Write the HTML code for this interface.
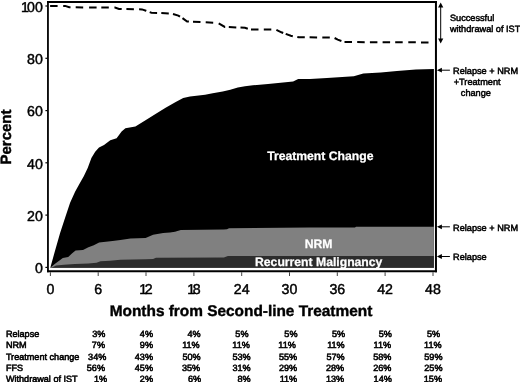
<!DOCTYPE html>
<html><head><meta charset="utf-8"><title>Figure</title>
<style>
html,body{margin:0;padding:0;background:#fff;}
svg{display:block;text-rendering:geometricPrecision;font-family:"Liberation Sans",sans-serif;fill:#000;}
.tk{font-size:14.2px;stroke:#000;stroke-width:0.45px;}
.an{font-size:9.2px;stroke:#000;stroke-width:0.5px;}
.tb{font-size:9.1px;stroke:#000;stroke-width:0.55px;}
.wl{font-size:12.2px;font-weight:bold;fill:#fff;stroke:#fff;stroke-width:0.25px;}
.ax{font-size:15.4px;font-weight:bold;stroke:#000;stroke-width:0.4px;}
</style></head><body>
<svg width="520" height="382" viewBox="0 0 520 382">
<rect x="0" y="0" width="520" height="382" fill="#fff"/>
<path d="M50.3,267.7 L55.1,250.5 L60.1,232.9 L65.1,217.8 L70.1,202.7 L75.2,191.4 L80.2,182.6 L83.9,176.0 L87.7,168.0 L91.4,158.0 L95.2,151.7 L99.0,147.4 L104.0,144.9 L110.3,140.3 L116.6,138.3 L121.6,131.5 L125.4,128.3 L135.4,126.5 L145.5,120.2 L155.5,114.0 L165.6,107.7 L175.7,102.1 L183.2,98.1 L190.0,96.5 L205.1,94.8 L212.7,93.2 L222.7,91.5 L230.3,89.8 L237.8,87.6 L245.0,86.2 L252.9,85.3 L268.0,83.9 L280.6,82.7 L293.1,81.4 L298.2,78.9 L310.0,78.9 L326.9,77.9 L353.8,76.3 L363.3,73.6 L380.8,72.5 L396.9,70.9 L415.8,69.6 L433.9,69.0 L433.9,267.7 Z" fill="#000"/>
<path d="M50.3,267.7 L54.7,264.0 L58.8,261.1 L62.8,258.0 L68.2,257.0 L72.2,253.3 L75.6,250.6 L83.0,249.9 L88.4,247.2 L93.8,245.2 L99.1,242.5 L105.9,241.8 L112.6,240.9 L120.4,239.9 L130.5,238.4 L145.6,238.0 L153.1,234.8 L163.2,233.1 L170.0,232.5 L175.0,231.8 L180.8,230.0 L223.9,229.4 L227.0,229.2 L229.0,228.2 L310.0,227.6 L355.0,227.4 L356.0,226.8 L433.9,226.8 L433.9,267.7 Z" fill="#808080"/>
<path d="M50.3,267.7 L52.0,267.4 L56.0,265.4 L64.0,264.7 L75.0,264.0 L88.4,263.4 L96.5,262.7 L100.5,261.3 L110.0,260.7 L120.4,259.7 L145.6,259.3 L153.0,259.0 L156.0,257.8 L223.9,257.6 L227.9,256.1 L433.9,256.1 L433.9,267.7 Z" fill="#2c2c2c"/>
<path d="M50.1,5.9 L57.6,5.9 M63.2,5.9 L65.2,5.9 L69.2,7.3 L70.5,7.3 M75.7,7.3 L83.2,7.4 M89.1,7.4 L96.6,7.4 M101.3,7.4 L108.8,7.5 M114.4,7.5 L115.0,7.5 L119.0,8.9 L121.7,9.0 M126.4,9.1 L133.9,9.2 M139.1,9.3 L142.0,9.4 L146.0,10.8 L146.3,10.9 M149.7,12.1 L151.4,12.7 L157.1,12.9 M161.3,13.1 L168.8,13.4 M173.0,14.0 L178.3,15.6 L180.0,16.6 M182.5,18.1 L187.1,21.5 L188.9,21.6 M193.0,21.8 L200.5,22.1 M205.7,22.3 L213.2,22.7 M218.7,23.3 L224.8,26.9 L225.2,26.9 M228.8,27.1 L236.3,27.4 M240.5,27.5 L245.0,27.7 L247.8,28.7 M251.0,29.6 L258.5,29.6 M263.8,29.6 L271.3,29.6 M276.4,29.8 L281.4,32.3 L283.2,33.0 M285.7,33.9 L290.8,35.8 L292.8,36.2 M297.3,36.9 L298.9,37.2 L304.8,37.3 M309.6,37.3 L317.1,37.4 M322.3,37.4 L329.8,37.5 M334.6,38.0 L337.7,39.7 L341.4,41.0 M344.5,42.1 L352.0,42.1 M357.2,42.1 L364.7,42.2 M369.9,42.2 L377.4,42.2 M382.6,42.2 L390.1,42.3 M395.2,42.3 L402.7,42.3 M408.3,42.3 L415.8,42.3 M421.0,42.4 L428.5,42.4" fill="none" stroke="#000" stroke-width="2"/>
<path d="M47.05,2 H436.95 M47.05,271.25 H436.95" fill="none" stroke="#000" stroke-width="2.1"/>
<path d="M47.95,1 V272.3" fill="none" stroke="#000" stroke-width="1.8"/>
<path d="M435.95,1 V272.3" fill="none" stroke="#000" stroke-width="2.0"/>
<line x1="45.4" x2="47.2" y1="267.4" y2="267.4" stroke="#000" stroke-width="1.2"/>
<text class="tk" x="42.8" y="273.2" text-anchor="end">0</text>
<line x1="45.4" x2="47.2" y1="215.1" y2="215.1" stroke="#000" stroke-width="1.2"/>
<text class="tk" x="42.8" y="220.9" text-anchor="end">20</text>
<line x1="45.4" x2="47.2" y1="162.8" y2="162.8" stroke="#000" stroke-width="1.2"/>
<text class="tk" x="42.8" y="168.6" text-anchor="end">40</text>
<line x1="45.4" x2="47.2" y1="110.6" y2="110.6" stroke="#000" stroke-width="1.2"/>
<text class="tk" x="42.8" y="116.4" text-anchor="end">60</text>
<line x1="45.4" x2="47.2" y1="58.3" y2="58.3" stroke="#000" stroke-width="1.2"/>
<text class="tk" x="42.8" y="64.1" text-anchor="end">80</text>
<line x1="45.4" x2="47.2" y1="6.0" y2="6.0" stroke="#000" stroke-width="1.2"/>
<text class="tk" x="42.8" y="11.8" text-anchor="end">1<tspan dx="-1.9">00</tspan></text>
<line x1="50.4" x2="50.4" y1="272.2" y2="276" stroke="#444" stroke-width="1"/>
<text class="tk" x="50.4" y="294.4" text-anchor="middle">0</text>
<line x1="98.2" x2="98.2" y1="272.2" y2="276" stroke="#444" stroke-width="1"/>
<text class="tk" x="98.2" y="294.4" text-anchor="middle">6</text>
<line x1="146.0" x2="146.0" y1="272.2" y2="276" stroke="#444" stroke-width="1"/>
<text class="tk" x="146.0" y="294.4" text-anchor="middle">1<tspan dx="-2.4">2</tspan></text>
<line x1="193.9" x2="193.9" y1="272.2" y2="276" stroke="#444" stroke-width="1"/>
<text class="tk" x="193.9" y="294.4" text-anchor="middle">1<tspan dx="-2.4">8</tspan></text>
<line x1="241.7" x2="241.7" y1="272.2" y2="276" stroke="#444" stroke-width="1"/>
<text class="tk" x="241.7" y="294.4" text-anchor="middle">24</text>
<line x1="289.5" x2="289.5" y1="272.2" y2="276" stroke="#444" stroke-width="1"/>
<text class="tk" x="289.5" y="294.4" text-anchor="middle">30</text>
<line x1="337.3" x2="337.3" y1="272.2" y2="276" stroke="#444" stroke-width="1"/>
<text class="tk" x="337.3" y="294.4" text-anchor="middle">36</text>
<line x1="385.1" x2="385.1" y1="272.2" y2="276" stroke="#444" stroke-width="1"/>
<text class="tk" x="385.1" y="294.4" text-anchor="middle">42</text>
<line x1="433.0" x2="433.0" y1="272.2" y2="276" stroke="#444" stroke-width="1"/>
<text class="tk" x="433.0" y="294.4" text-anchor="middle">48</text>
<text class="ax" x="241.0" y="315.7" text-anchor="middle">Months from Second-line Treatment</text>
<text class="ax" style="font-size:15px" transform="translate(11.3,137) rotate(-90)" text-anchor="middle">Percent</text>
<text class="wl" x="320.3" y="160.1" text-anchor="middle">Treatment Change</text>
<text class="wl" x="318.6" y="248.3" text-anchor="middle">NRM</text>
<text class="wl" x="318.7" y="266.3" text-anchor="middle">Recurrent Malignancy</text>
<line x1="440.7" x2="440.7" y1="5" y2="41" stroke="#000" stroke-width="1"/>
<path d="M440.7,2.4 L443.3,7.4 L438.1,7.4 Z M440.7,43.6 L443.3,38.6 L438.1,38.6 Z" fill="#000"/>
<text class="an" x="449.9" y="21.3">Successful</text>
<text class="an" x="449.9" y="32.3">withdrawal of IST</text>
<line x1="439" x2="449.9" y1="70.2" y2="70.2" stroke="#000" stroke-width="1"/>
<path d="M436.9,70.2 L441.9,67.8 L441.9,72.60000000000001 Z" fill="#000"/>
<line x1="439" x2="449.9" y1="226.8" y2="226.8" stroke="#000" stroke-width="1"/>
<path d="M436.9,226.8 L441.9,224.4 L441.9,229.20000000000002 Z" fill="#000"/>
<line x1="439" x2="449.9" y1="256.5" y2="256.5" stroke="#000" stroke-width="1"/>
<path d="M436.9,256.5 L441.9,254.1 L441.9,258.9 Z" fill="#000"/>
<text class="an" x="453" y="73.7">Relapse + NRM</text>
<text class="an" x="453.7" y="84.8">+Treatment</text>
<text class="an" x="460.8" y="96">change</text>
<text class="an" x="453" y="231.1">Relapse + NRM</text>
<text class="an" x="453" y="260">Relapse</text>
<text class="tb" x="5.9" y="337.3">Relapse</text>
<text class="tb" x="105.4" y="337.3" text-anchor="end">3%</text>
<text class="tb" x="153.0" y="337.3" text-anchor="end">4%</text>
<text class="tb" x="200.6" y="337.3" text-anchor="end">4%</text>
<text class="tb" x="248.5" y="337.3" text-anchor="end">5%</text>
<text class="tb" x="297.5" y="337.3" text-anchor="end">5%</text>
<text class="tb" x="345.1" y="337.3" text-anchor="end">5%</text>
<text class="tb" x="391.8" y="337.3" text-anchor="end">5%</text>
<text class="tb" x="440.2" y="337.3" text-anchor="end">5%</text>
<text class="tb" x="5.9" y="348.4">NRM</text>
<text class="tb" x="105.0" y="348.4" text-anchor="end">7%</text>
<text class="tb" x="153.0" y="348.4" text-anchor="end">9%</text>
<text class="tb" x="199.7" y="348.4" text-anchor="end">11%</text>
<text class="tb" x="249.9" y="348.4" text-anchor="end">11%</text>
<text class="tb" x="295.8" y="348.4" text-anchor="end">11%</text>
<text class="tb" x="344.7" y="348.4" text-anchor="end">11%</text>
<text class="tb" x="391.1" y="348.4" text-anchor="end">11%</text>
<text class="tb" x="441.6" y="348.4" text-anchor="end">11%</text>
<text class="tb" x="5.9" y="359.6">Treatment change</text>
<text class="tb" x="106.3" y="359.6" text-anchor="end">34%</text>
<text class="tb" x="153.0" y="359.6" text-anchor="end">43%</text>
<text class="tb" x="200.6" y="359.6" text-anchor="end">50%</text>
<text class="tb" x="250.7" y="359.6" text-anchor="end">53%</text>
<text class="tb" x="297.2" y="359.6" text-anchor="end">55%</text>
<text class="tb" x="344.6" y="359.6" text-anchor="end">57%</text>
<text class="tb" x="391.4" y="359.6" text-anchor="end">58%</text>
<text class="tb" x="442.5" y="359.6" text-anchor="end">59%</text>
<text class="tb" x="5.9" y="370.8">FFS</text>
<text class="tb" x="105.0" y="370.8" text-anchor="end">56%</text>
<text class="tb" x="153.0" y="370.8" text-anchor="end">45%</text>
<text class="tb" x="200.1" y="370.8" text-anchor="end">35%</text>
<text class="tb" x="250.7" y="370.8" text-anchor="end">31%</text>
<text class="tb" x="297.2" y="370.8" text-anchor="end">29%</text>
<text class="tb" x="344.2" y="370.8" text-anchor="end">28%</text>
<text class="tb" x="391.4" y="370.8" text-anchor="end">26%</text>
<text class="tb" x="442.5" y="370.8" text-anchor="end">25%</text>
<text class="tb" x="5.9" y="381.9">Withdrawal of IST</text>
<text class="tb" x="107.1" y="381.9" text-anchor="end">1%</text>
<text class="tb" x="153.0" y="381.9" text-anchor="end">2%</text>
<text class="tb" x="201.1" y="381.9" text-anchor="end">6%</text>
<text class="tb" x="250.7" y="381.9" text-anchor="end">8%</text>
<text class="tb" x="297.2" y="381.9" text-anchor="end">11%</text>
<text class="tb" x="344.2" y="381.9" text-anchor="end">13%</text>
<text class="tb" x="391.8" y="381.9" text-anchor="end">14%</text>
<text class="tb" x="442.0" y="381.9" text-anchor="end">15%</text>
</svg>
</body></html>
